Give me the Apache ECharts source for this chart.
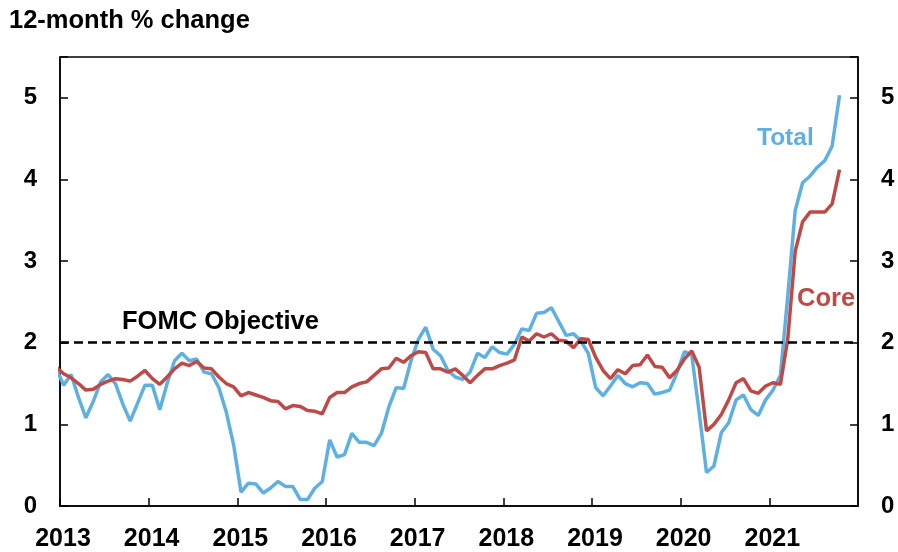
<!DOCTYPE html>
<html>
<head>
<meta charset="utf-8">
<script src="https://cdn.jsdelivr.net/npm/echarts@6/dist/echarts.min.js"></script>
<style>
html,body{margin:0;padding:0;background:#fff;}
#chart{width:898px;height:552px;}
</style>
</head>
<body>
<div id="chart"></div>
<script>
// Monthly observations, Dec 2012 through Oct 2021 (12-month % change)
const startYear = 2012, startMonth = 12;
const totalPCE = [
  1.68,
  1.48, 1.61, 1.33, 1.08, 1.28, 1.52, 1.61, 1.50, 1.25, 1.04, 1.26, 1.48,
  1.48, 1.18, 1.50, 1.78, 1.87, 1.78, 1.80, 1.64, 1.62, 1.45, 1.15, 0.75,
  0.17, 0.28, 0.27, 0.16, 0.22, 0.30, 0.24, 0.24, 0.08, 0.08, 0.22, 0.30,
  0.81, 0.60, 0.63, 0.89, 0.78, 0.78, 0.74, 0.89, 1.21, 1.45, 1.44, 1.78,
  2.04, 2.19, 1.92, 1.84, 1.66, 1.58, 1.55, 1.64, 1.87, 1.82, 1.95, 1.88,
  1.86, 1.98, 2.17, 2.15, 2.36, 2.37, 2.43, 2.26, 2.09, 2.11, 2.02, 1.87,
  1.45, 1.35, 1.47, 1.60, 1.50, 1.46, 1.51, 1.50, 1.37, 1.39, 1.42, 1.63,
  1.89, 1.85, 1.15, 0.41, 0.49, 0.90, 1.02, 1.30, 1.36, 1.18, 1.11, 1.30,
  1.42, 1.60, 2.58, 3.62, 3.96, 4.04, 4.15, 4.23, 4.41, 5.03
];
const corePCE = [
  1.70,
  1.62, 1.57, 1.50, 1.42, 1.43, 1.49, 1.53, 1.56, 1.55, 1.53, 1.59, 1.66,
  1.56, 1.49, 1.58, 1.68, 1.75, 1.72, 1.77, 1.69, 1.68, 1.58, 1.50, 1.46,
  1.35, 1.39, 1.36, 1.33, 1.29, 1.28, 1.19, 1.23, 1.22, 1.17, 1.16, 1.13,
  1.33, 1.39, 1.39, 1.46, 1.50, 1.52, 1.60, 1.68, 1.69, 1.81, 1.76, 1.84,
  1.89, 1.88, 1.68, 1.68, 1.64, 1.68, 1.60, 1.51, 1.60, 1.68, 1.68, 1.72,
  1.75, 1.79, 2.07, 2.02, 2.11, 2.07, 2.11, 2.03, 2.02, 1.94, 2.05, 2.04,
  1.82, 1.66, 1.56, 1.67, 1.62, 1.72, 1.73, 1.85, 1.71, 1.70, 1.57, 1.66,
  1.80, 1.90, 1.70, 0.92, 1.00, 1.12, 1.30, 1.51, 1.56, 1.41, 1.38, 1.47,
  1.51, 1.49, 2.05, 3.12, 3.48, 3.60, 3.60, 3.60, 3.70, 4.12
];
const yearTicks = [2013, 2014, 2015, 2016, 2017, 2018, 2019, 2020, 2021];
const yTicks = [0, 1, 2, 3, 4, 5];
const objective = 2;

// month labels -> mid-month decimal year
const months = totalPCE.map((_, i) => {
  const m0 = (startMonth - 1) + i;
  return { year: startYear + Math.floor(m0 / 12), month: (m0 % 12) + 1 };
});
const xOf = d => d.year + (d.month - 0.5) / 12;
const totalData = months.map((d, i) => [xOf(d), totalPCE[i]]);
const coreData = months.map((d, i) => [xOf(d), corePCE[i]]);

const FONT = '"Liberation Sans", Arial, Helvetica, sans-serif';
const BLUE = '#5FB0E2';
const RED = '#BE4A47';

const yAxisCommon = {
  type: 'value', min: 0, max: 5.5, interval: 1,
  axisLine: { show: true, lineStyle: { color: '#000', width: 1.5 } },
  axisTick: { show: true, inside: true, length: 8, lineStyle: { color: '#000', width: 1.5 } },
  splitLine: { show: false },
  axisLabel: {
    margin: 23, color: '#000', fontSize: 24, fontWeight: 'bold', fontFamily: FONT,
    formatter: v => (yTicks.indexOf(v) >= 0 ? String(v) : '')
  }
};

const chart = echarts.init(document.getElementById('chart'));
chart.setOption({
  animation: false,
  backgroundColor: '#fff',
  grid: { left: 60, right: 40, top: 57, bottom: 46, show: true, borderColor: '#000', borderWidth: 1.5 },
  xAxis: {
    type: 'value', min: 2013, max: 2022, interval: 1,
    axisLine: { show: true, onZero: false, lineStyle: { color: '#000', width: 1.5 } },
    axisTick: { show: true, inside: true, length: 8, lineStyle: { color: '#000', width: 1.5 } },
    splitLine: { show: false },
    axisLabel: {
      margin: 21, color: '#000', fontSize: 25, fontWeight: 'bold', fontFamily: FONT,
      padding: [0, 0, 0, 6],
      showMaxLabel: false,
      formatter: v => (yearTicks.indexOf(v) >= 0 ? String(v) : '')
    }
  },
  yAxis: [
    Object.assign({ position: 'left' }, yAxisCommon),
    Object.assign({ position: 'right' }, yAxisCommon)
  ],
  graphic: [
    { type: 'text', left: 9, top: 8, style: { text: '12-month % change', fill: '#000', font: 'bold 25.5px ' + FONT } },
    { type: 'text', left: 122, top: 309, style: { text: 'FOMC Objective', fill: '#000', font: 'bold 25.5px ' + FONT } },
    { type: 'text', left: 757, top: 126, style: { text: 'Total', fill: BLUE, font: 'bold 24.5px ' + FONT } },
    { type: 'text', left: 797, top: 286, style: { text: 'Core', fill: RED, font: 'bold 25.5px ' + FONT } }
  ],
  series: [
    {
      name: 'Objective', type: 'line', data: [], silent: true,
      markLine: {
        silent: true, symbol: 'none', label: { show: false },
        lineStyle: { color: '#000', type: [9, 5], width: 2.5 },
        data: [{ yAxis: objective }]
      }
    },
    {
      name: 'Total', type: 'line', data: totalData, showSymbol: false, clip: true,
      lineStyle: { color: BLUE, width: 3.5 }, itemStyle: { color: BLUE }
    },
    {
      name: 'Core', type: 'line', data: coreData, showSymbol: false, clip: true,
      lineStyle: { color: RED, width: 3.5 }, itemStyle: { color: RED }
    }
  ]
});
</script>
</body>
</html>
